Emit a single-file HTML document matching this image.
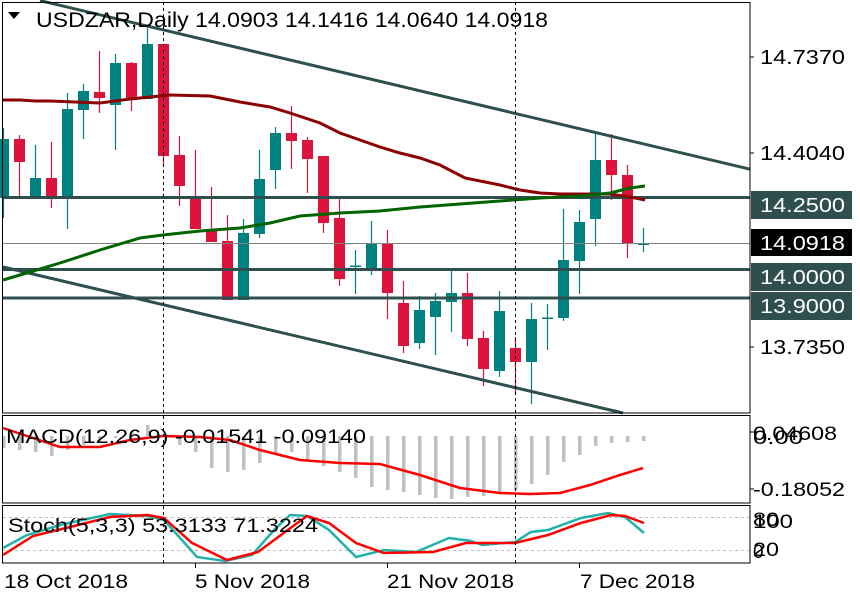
<!DOCTYPE html>
<html><head><meta charset="utf-8"><style>
html,body{margin:0;padding:0;background:#fff;}
svg{display:block;font-family:"Liberation Sans",sans-serif;}
</style></head><body>
<svg id="s" width="860" height="600" viewBox="0 0 860 600" xmlns="http://www.w3.org/2000/svg">
<rect width="860" height="600" fill="#fff"/>
<g id="cd"></g>
<line x1="3" y1="243.5" x2="750" y2="243.5" stroke="#808080" stroke-width="1"/>
<line x1="3" y1="197.5" x2="750" y2="197.5" stroke="#2F4F4F" stroke-width="3"/>
<line x1="3" y1="269.5" x2="750" y2="269.5" stroke="#2F4F4F" stroke-width="3"/>
<line x1="3" y1="298" x2="750" y2="298" stroke="#2F4F4F" stroke-width="3"/>
<line x1="40" y1="0.6" x2="750" y2="169.2" stroke="#2F4F4F" stroke-width="3"/>
<line x1="3" y1="267" x2="623" y2="413" stroke="#2F4F4F" stroke-width="3"/>
<polyline fill="none" stroke="#8B0000" stroke-width="3" points="3,100 20,100 35,101 50,101 100,103 130,99 170,95 210,96 240,102 270,107 290,113 320,123 340,133 380,147 400,153 420,158 440,165 465,178 500,185 520,190 540,193 560,194 590,194 610,194 630,197 645,200"/>
<polyline fill="none" stroke="#006400" stroke-width="3" points="3,280 30,272 60,263 100,250 140,238 163,235 200,231 240,228 270,223 300,216 340,213 380,211 420,207 460,204 500,201 540,198 580,196 610,193 630,188 645,186"/>
<g id="hist"></g>
<polyline fill="none" stroke="#FF0000" stroke-width="2.5" points="3,428 30,437 60,447 100,447 130,440 163,436 200,437 230,440 260,450 300,460 340,463 380,464 420,475 460,488 500,493 530,494 560,493 590,485 620,475 643,468"/>
<line x1="3" y1="517.5" x2="750" y2="517.5" stroke="#c0c0c0" stroke-dasharray="3,3"/>
<line x1="3" y1="550.5" x2="750" y2="550.5" stroke="#c0c0c0" stroke-dasharray="3,3"/>
<polyline fill="none" stroke="#20B2AA" stroke-width="2.5" points="3,548 27,535 60,525 110,514 148,516 164,520 197,557 225,561 252,555 274,530 290,515 307,516 329,530 356,557 384,550 416,552 449,538 471,541 482,545 515,542 531,532 548,530 581,518 608,513 625,517 644,533"/>
<polyline fill="none" stroke="#FF0000" stroke-width="2.5" points="3,555 33,536 66,528 110,517 148,515 164,518 192,543 227,560 258,552 285,532 307,516 329,523 356,543 384,553 433,552 466,543 515,543 548,535 581,523 611,515 625,516 644,523"/>
<line x1="163.5" y1="2" x2="163.5" y2="563" stroke="#000" stroke-dasharray="3,3"/>
<line x1="515.5" y1="2" x2="515.5" y2="563" stroke="#000" stroke-dasharray="3,3"/>
<rect x="2.5" y="2.5" width="747.5" height="410.5" fill="none" stroke="#000"/>
<rect x="2.5" y="415.5" width="747.5" height="87.5" fill="none" stroke="#000"/>
<rect x="2.5" y="505.5" width="747.5" height="57.5" fill="none" stroke="#000"/>
<g stroke="#000">
<line x1="750" y1="57" x2="754" y2="57"/><line x1="750" y1="153" x2="754" y2="153"/><line x1="750" y1="347" x2="754" y2="347"/>
<line x1="750" y1="432" x2="754" y2="432"/><line x1="750" y1="489" x2="754" y2="489"/>
</g>
<g font-size="20" fill="#000" lengthAdjust="spacingAndGlyphs">
<text x="760" y="64" textLength="85" lengthAdjust="spacingAndGlyphs">14.7370</text>
<text x="760" y="160" textLength="85" lengthAdjust="spacingAndGlyphs">14.4040</text>
<text x="760" y="354" textLength="85" lengthAdjust="spacingAndGlyphs">13.7350</text>
</g>
<rect x="751" y="191" width="101" height="28" fill="#2F4F4F"/>
<text x="760" y="212" font-size="20" fill="#fff" textLength="85" lengthAdjust="spacingAndGlyphs">14.2500</text>
<rect x="751" y="229" width="101" height="27" fill="#000"/>
<text x="760" y="250" font-size="20" fill="#fff" textLength="85" lengthAdjust="spacingAndGlyphs">14.0918</text>
<rect x="751" y="263" width="101" height="28" fill="#2F4F4F"/>
<text x="760" y="284" font-size="20" fill="#fff" textLength="85" lengthAdjust="spacingAndGlyphs">14.0000</text>
<rect x="751" y="292" width="101" height="28" fill="#2F4F4F"/>
<text x="760" y="313" font-size="20" fill="#fff" textLength="85" lengthAdjust="spacingAndGlyphs">13.9000</text>
<g font-size="19" fill="#000">
<text x="753" y="440" textLength="84" lengthAdjust="spacingAndGlyphs">0.04608</text>
<text x="753" y="444" textLength="50" lengthAdjust="spacingAndGlyphs">0.00</text>
<text x="753" y="496" textLength="92" lengthAdjust="spacingAndGlyphs">-0.18052</text>
<text x="753" y="526" textLength="26" lengthAdjust="spacingAndGlyphs">80</text>
<text x="753" y="528" textLength="40" lengthAdjust="spacingAndGlyphs">100</text>
<text x="753" y="556" textLength="26" lengthAdjust="spacingAndGlyphs">20</text>
<text x="753" y="558">0</text>
</g>
<polygon points="8,12 20,12 14,19" fill="#000"/>
<text x="36" y="27" font-size="21" fill="#000" textLength="512" lengthAdjust="spacingAndGlyphs">USDZAR,Daily  14.0903 14.1416 14.0640 14.0918</text>
<text x="6" y="443" font-size="19" fill="#000" textLength="360" lengthAdjust="spacingAndGlyphs">MACD(12,26,9) -0.01541 -0.09140</text>
<text x="8" y="532" font-size="19" fill="#000" textLength="310" lengthAdjust="spacingAndGlyphs">Stoch(5,3,3) 53.3133 71.3224</text>
<g stroke="#000"><line x1="195.5" y1="563" x2="195.5" y2="568"/><line x1="387.5" y1="563" x2="387.5" y2="568"/><line x1="579.5" y1="563" x2="579.5" y2="568"/></g>
<g font-size="19" fill="#000">
<text x="4" y="588" textLength="124" lengthAdjust="spacingAndGlyphs">18 Oct 2018</text>
<text x="195" y="588" textLength="115" lengthAdjust="spacingAndGlyphs">5 Nov 2018</text>
<text x="387" y="588" textLength="127" lengthAdjust="spacingAndGlyphs">21 Nov 2018</text>
<text x="580" y="588" textLength="115" lengthAdjust="spacingAndGlyphs">7 Dec 2018</text>
</g>
</svg>
<script>
var T="#008080",R="#DC143C";
var c=[[T,139,198,128,218],[R,139,162,135,196],[T,178,197,145,197],[R,178,197,142,208],[T,109,198,93,229],[T,91,110,84,139],[R,92,98,51,113],[T,63,105,54,150],[R,63,98,62,111],[T,44,99,28,99],[R,44,156,44,166],[R,155,186,136,206],[R,196,229,150,229],[R,229,242,187,242],[R,241,300,215,300],[T,233,300,219,300],[T,179,234,150,238],[T,133,170,127,189],[R,133,141,106,169],[R,140,159,137,193],[R,156,223,156,233],[R,218,279,198,286],[T,266,266,250,294],[T,244,268,221,275],[R,244,293,230,319],[R,303,346,281,353],[T,310,343,296,349],[T,301,317,293,355],[T,293,302,271,332],[R,293,339,273,346],[R,338,369,331,386],[T,311,371,291,377],[R,348,362,337,394],[T,319,362,303,404],[T,318,318,304,350],[T,260,318,209,321],[T,222,261,210,294],[T,160,219,132,246],[R,160,175,134,200],[R,175,244,165,258],[T,244,244,228,252]];
var h=[448,450,452,456,450,445,442,438,432,425,436,445,452,468,472,470,463,455,452,460,466,472,478,487,490,492,495,498,499,497,496,492,490,484,475,462,455,446,443,442,441];
var ns="http://www.w3.org/2000/svg",g=document.getElementById("cd"),hg=document.getElementById("hist");
function el(p,t,a){var e=document.createElementNS(ns,t);for(var k in a)e.setAttribute(k,a[k]);p.appendChild(e);}
c.forEach(function(d,i){var x=3.5+16*i;
 el(g,"line",{x1:x,y1:d[3],x2:x,y2:d[4],stroke:d[0],"stroke-width":1.2});
 if(d[2]-d[1]<2) el(g,"rect",{x:x-5.5,y:d[1]-0.5,width:11,height:1.5,fill:d[0]});
 else el(g,"rect",{x:x-5.5,y:d[1],width:11,height:d[2]-d[1],fill:d[0]});
 var z=436,b=h[i];
 el(hg,"rect",{x:x-1.5,y:Math.min(z,b),width:3.5,height:Math.abs(b-z)||1,fill:"#C0C0C0"});
});
</script>
</body></html>
